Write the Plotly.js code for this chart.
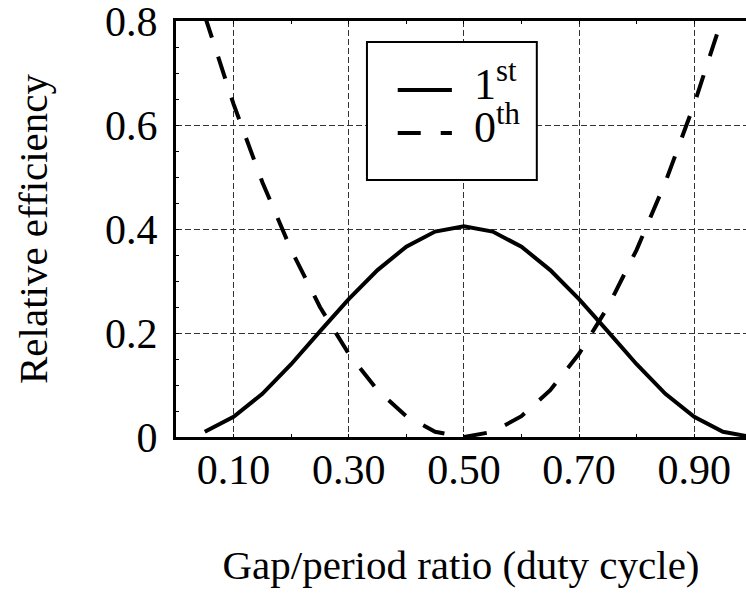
<!DOCTYPE html>
<html>
<head>
<meta charset="utf-8">
<script src="https://cdn.plot.ly/plotly-3.0.1.min.js"></script>
<style>html,body{margin:0;padding:0;background:#fff;}#chart{width:746px;height:594px;}</style>
</head>
<body>
<div id="chart"></div>
<script>
// duty cycle values
const dutyFirst = [0.05,0.10,0.15,0.20,0.25,0.30,0.35,0.40,0.45,0.50,0.55,0.60,0.65,0.70,0.75,0.80,0.85,0.90,0.95,1.00];
const effFirst  = [0.010,0.039,0.083,0.140,0.203,0.265,0.321,0.366,0.395,0.405,0.395,0.366,0.321,0.265,0.203,0.140,0.083,0.039,0.010,0.000];
const dutyZeroth = [0.05,0.10,0.15,0.20,0.25,0.30,0.35,0.40,0.45,0.50,0.55,0.60,0.65,0.70,0.75,0.80,0.85,0.90,0.95];
const effZeroth  = [0.81,0.64,0.49,0.36,0.25,0.16,0.09,0.04,0.01,0.00,0.01,0.04,0.09,0.16,0.25,0.36,0.49,0.64,0.81];
const seriesNames = ['1<sup>st</sup>', '0<sup>th</sup>'];
const xTickVals = [0.1, 0.3, 0.5, 0.7, 0.9];
const xTickText = ['0.10', '0.30', '0.50', '0.70', '0.90'];
const yTickVals = [0, 0.2, 0.4, 0.6, 0.8];
const yTickText = ['0', '0.2', '0.4', '0.6', '0.8'];
const xTitle = 'Gap/period ratio (duty cycle)';
const yTitle = 'Relative efficiency';

const FONT = 'Liberation Serif';
const DASH = '23px,20px';

const traces = [
  {x: dutyFirst, y: effFirst, mode: 'lines', name: seriesNames[0],
   line: {color: '#000', width: 4, dash: 'solid'}},
  {x: dutyZeroth, y: effZeroth, mode: 'lines', name: seriesNames[1],
   line: {color: '#000', width: 4, dash: DASH}}
];

// legend box geometry in paper coordinates
const lgX0 = 0.335, lgX1 = 0.633, lgY0 = 0.618, lgY1 = 0.9495;
const smpX0 = 0.389, smpX1 = 0.484;
const rowY = [0.834, 0.731];

const layout = {
  width: 746, height: 594,
  margin: {l: 176, r: 0, t: 21, b: 157, pad: 0},
  paper_bgcolor: '#fff', plot_bgcolor: '#fff',
  showlegend: false,
  font: {family: FONT, color: '#000', size: 42},
  xaxis: {
    range: [0, 0.99], autorange: false,
    tickmode: 'array', tickvals: xTickVals, ticktext: xTickText,
    ticks: 'inside', ticklen: 3, tickwidth: 1, tickcolor: '#000',
    ticklabelstandoff: -6, ticklabeloverflow: 'allow',
    tickfont: {family: FONT, size: 42, color: '#000'},
    showline: true, linewidth: 3, linecolor: '#000', mirror: 'allticks',
    showgrid: true, gridcolor: '#333', gridwidth: 1, griddash: '6px,3px',
    zeroline: false,
    minor: {dtick: 0.1, tick0: 0, ticks: 'inside', ticklen: 3, tickcolor: '#000', showgrid: false},
    title: {text: xTitle, font: {family: FONT, size: 41, color: '#000'}, standoff: 58}
  },
  yaxis: {
    range: [0, 0.8], autorange: false,
    tickmode: 'array', tickvals: yTickVals, ticktext: yTickText,
    ticks: 'inside', ticklen: 3, tickwidth: 1, tickcolor: '#000',
    ticklabelstandoff: 7, ticklabeloverflow: 'allow',
    tickfont: {family: FONT, size: 42, color: '#000'},
    showline: true, linewidth: 3, linecolor: '#000', mirror: false,
    showgrid: true, gridcolor: '#333', gridwidth: 1, griddash: '6px,3px',
    zeroline: false,
    minor: {dtick: 0.05, tick0: 0, ticks: 'inside', ticklen: 3, tickcolor: '#000', showgrid: false},
    title: {text: yTitle, font: {family: FONT, size: 41, color: '#000'}, standoff: 45}
  },
  shapes: [
    {type: 'rect', xref: 'paper', yref: 'paper', x0: lgX0, x1: lgX1, y0: lgY0, y1: lgY1,
     line: {color: '#000', width: 2}, fillcolor: '#fff', layer: 'above'},
    {type: 'line', xref: 'paper', yref: 'paper', x0: smpX0, x1: smpX1, y0: rowY[0], y1: rowY[0],
     line: {color: '#000', width: 4}, layer: 'above'},
    {type: 'line', xref: 'paper', yref: 'paper', x0: smpX0, x1: smpX1, y0: rowY[1], y1: rowY[1],
     line: {color: '#000', width: 4, dash: DASH}, layer: 'above'}
  ],
  annotations: [
    {xref: 'paper', yref: 'paper', x: 0.52, y: rowY[0] + 0.02, xanchor: 'left', yanchor: 'middle',
     text: seriesNames[0], showarrow: false, font: {family: FONT, size: 44, color: '#000'}},
    {xref: 'paper', yref: 'paper', x: 0.52, y: rowY[1] + 0.02, xanchor: 'left', yanchor: 'middle',
     text: seriesNames[1], showarrow: false, font: {family: FONT, size: 44, color: '#000'}}
  ]
};

Plotly.newPlot('chart', traces, layout, {staticPlot: true, displayModeBar: false});
</script>
</body>
</html>
